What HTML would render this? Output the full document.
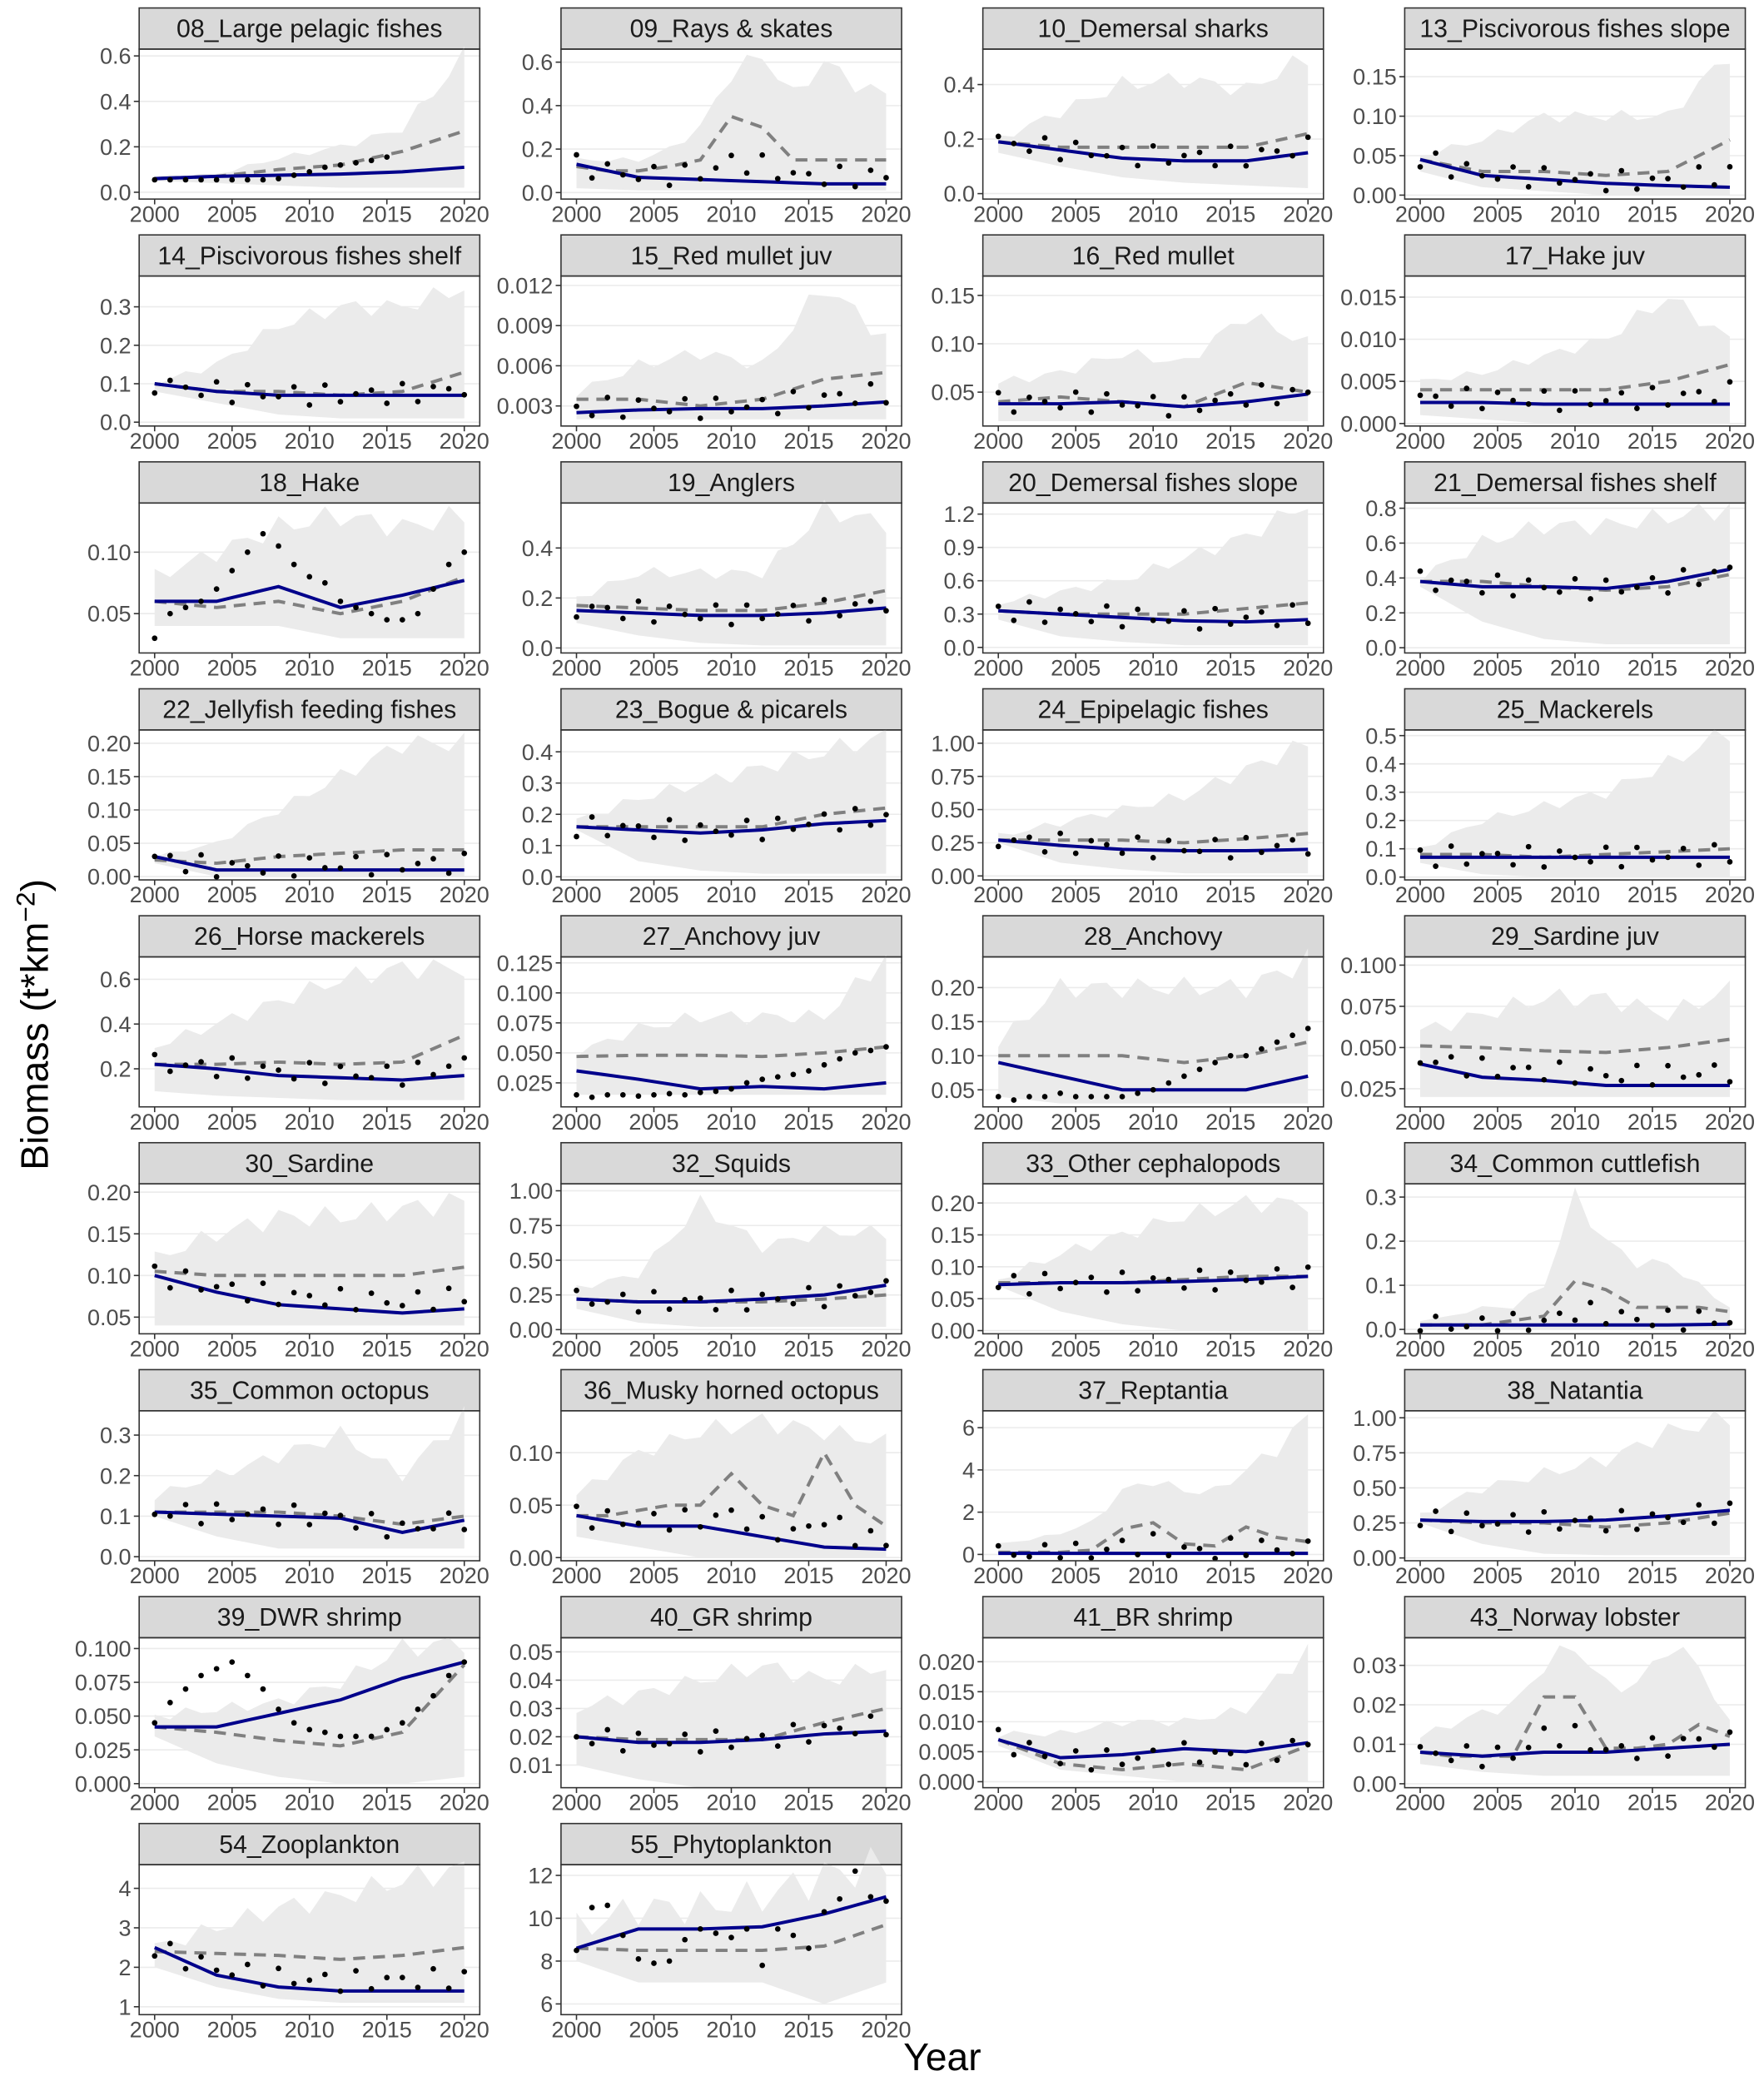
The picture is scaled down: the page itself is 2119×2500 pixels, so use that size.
<!DOCTYPE html>
<html><head><meta charset="utf-8"><style>
html,body{margin:0;padding:0;background:#fff;}
svg{display:block;}
</style></head><body>
<svg id="s" width="2119" height="2500" viewBox="0 0 1331 1568" preserveAspectRatio="none" xmlns="http://www.w3.org/2000/svg" font-family="Liberation Sans, Arial, sans-serif"></svg>
<script>
var P=[
["08_Large pelagic fishes",[0,.2,.4,.6],["0.0","0.2","0.4","0.6"],[-0.03,0.63],[.07,.08,.15,.2,.28,.6],[.05,.04,.03,.02,.02,.02],[.06,.07,.1,.12,.18,.27],[.06,.07,.075,.08,.09,.11],[.055,.055,.055,.055,.055,.055,.055,.055,.06,.075,.09,.11,.12,.13,.14,.155]],
["09_Rays & skates",[0,.2,.4,.6],["0.0","0.2","0.4","0.6"],[-0.03,0.66],[.15,.15,.15,.2,.3,.55,.63,.45,.6,.5,.45],[.02,.01,.01,.01,.01,.01],[.12,.1,.1,.12,.15,.35,.3,.15,.15,.15,.15],[.13,.07,.06,.05,.04,.04],null],
["10_Demersal sharks",[0,.2,.4],["0.0","0.2","0.4"],[-0.02,0.53],[.2,.3,.4,.42,.38,.5],[.15,.1,.06,.04,.03,.02],[.19,.17,.17,.17,.17,.22],[.19,.16,.13,.12,.12,.15],null],
["13_Piscivorous fishes slope",[0,.05,.1,.15],["0.00","0.05","0.10","0.15"],[-0.005,0.185],[.05,.07,.1,.1,.1,.18],[.03,.01,.005,0,0,0],[.045,.03,.03,.025,.03,.07],[.045,.025,.02,.015,.012,.01],null],
["14_Piscivorous fishes shelf",[0,.1,.2,.3],["0.0","0.1","0.2","0.3"],[-0.01,0.38],[.1,.15,.25,.3,.3,.35],[.08,.05,.02,.01,.01,.01],[.1,.08,.08,.07,.08,.13],[.1,.08,.07,.07,.07,.07],null],
["15_Red mullet juv",[.003,.006,.009,.012],["0.003","0.006","0.009","0.012"],[0.0015,0.0127],[.004,.006,.007,.006,.012,.008],[.002,.002,.002,.002,.002,.002],[.0035,.0035,.003,.0035,.005,.0055],[.0025,.0027,.0028,.0028,.003,.0033],null],
["16_Red mullet",[.05,.1,.15],["0.05","0.10","0.15"],[0.015,0.17],[.06,.07,.09,.08,.13,.1],[.02,.02,.02,.02,.02,.02],[.04,.045,.04,.035,.06,.05],[.038,.038,.04,.035,.04,.048],null],
["17_Hake juv",[0,.005,.01,.015],["0.000","0.005","0.010","0.015"],[-0.0003,0.0175],[.005,.006,.008,.01,.015,.01],[.001,.0005,0,0,0,0],[.004,.004,.004,.004,.005,.007],[.0025,.0025,.0023,.0023,.0023,.0023],null],
["18_Hake",[.05,.1],["0.05","0.10"],[0.018,0.14],[.08,.1,.12,.13,.12,.13],[.04,.04,.04,.03,.03,.03],[.06,.055,.06,.05,.06,.08],[.06,.06,.072,.055,.065,.077],[.03,.05,.055,.06,.07,.085,.1,.115,.105,.09,.08,.075,.06,.055,.05,.045,.045,.05,.07,.09,.1]],
["19_Anglers",[0,.2,.4],["0.0","0.2","0.4"],[-0.02,0.58],[.2,.3,.3,.3,.55,.5],[.1,.05,.02,.01,.01,.01],[.17,.16,.15,.15,.18,.23],[.15,.14,.13,.13,.14,.16],null],
["20_Demersal fishes slope",[0,.3,.6,.9,1.2],["0.0","0.3","0.6","0.9","1.2"],[-0.05,1.3],[.4,.5,.6,.8,1,1.3],[.25,.1,.05,.02,.02,.02],[.33,.3,.3,.3,.35,.4],[.33,.3,.27,.24,.23,.25],null],
["21_Demersal fishes shelf",[0,.2,.4,.6,.8],["0.0","0.2","0.4","0.6","0.8"],[-0.03,0.83],[.4,.6,.7,.7,.75,.8],[.35,.15,.05,.02,.02,.02],[.38,.38,.35,.33,.35,.42],[.38,.35,.35,.34,.38,.45],null],
["22_Jellyfish feeding fishes",[0,.05,.1,.15,.2],["0.00","0.05","0.10","0.15","0.20"],[-0.005,0.22],[.03,.05,.1,.15,.2,.2],[.02,0,0,0,0,0],[.025,.02,.03,.035,.04,.04],[.03,.01,.01,.01,.01,.01],null],
["23_Bogue & picarels",[0,.1,.2,.3,.4],["0.0","0.1","0.2","0.3","0.4"],[-0.01,0.47],[.18,.25,.3,.35,.4,.45],[.15,.05,.02,.01,.01,.01],[.16,.16,.16,.16,.2,.22],[.16,.15,.14,.15,.17,.18],null],
["24_Epipelagic fishes",[0,.25,.5,.75,1],["0.00","0.25","0.50","0.75","1.00"],[-0.03,1.1],[.3,.4,.5,.6,.8,1],[.25,.1,.05,.02,.02,.02],[.27,.27,.27,.25,.28,.32],[.27,.23,.2,.19,.19,.2],null],
["25_Mackerels",[0,.1,.2,.3,.4,.5],["0.0","0.1","0.2","0.3","0.4","0.5"],[-0.01,0.52],[.1,.2,.25,.3,.4,.52],[.05,.01,0,0,0,0],[.08,.08,.07,.08,.09,.1],[.07,.07,.07,.07,.07,.07],null],
["26_Horse mackerels",[.2,.4,.6],["0.2","0.4","0.6"],[0.03,0.7],[.3,.4,.5,.6,.65,.65],[.1,.08,.07,.06,.06,.06],[.22,.22,.23,.22,.23,.35],[.22,.2,.17,.16,.15,.17],null],
["27_Anchovy juv",[.025,.05,.075,.1,.125],["0.025","0.050","0.075","0.100","0.125"],[0.005,0.13],[.05,.07,.08,.08,.08,.13],[.015,.015,.015,.015,.015,.015],[.047,.048,.048,.047,.05,.055],[.035,.028,.02,.022,.02,.025],[.015,.013,.015,.015,.014,.015,.016,.015,.017,.018,.02,.025,.028,.03,.032,.035,.04,.045,.05,.052,.055]],
["28_Anchovy",[.05,.1,.15,.2],["0.05","0.10","0.15","0.20"],[0.025,0.245],[.12,.2,.2,.2,.2,.24],[.04,.03,.03,.03,.03,.03],[.1,.1,.1,.09,.1,.12],[.09,.07,.05,.05,.05,.07],[.04,.035,.04,.04,.045,.04,.04,.04,.04,.045,.05,.06,.07,.08,.09,.1,.1,.11,.12,.13,.14]],
["29_Sardine juv",[.025,.05,.075,.1],["0.025","0.050","0.075","0.100"],[0.014,0.105],[.06,.07,.08,.08,.07,.085],[.02,.02,.02,.02,.02,.02],[.051,.05,.048,.047,.05,.055],[.04,.032,.03,.027,.027,.027],null],
["30_Sardine",[.05,.1,.15,.2],["0.05","0.10","0.15","0.20"],[0.03,0.21],[.12,.15,.17,.17,.18,.19],[.04,.04,.04,.04,.04,.04],[.105,.1,.1,.1,.1,.11],[.1,.08,.065,.06,.055,.06],null],
["32_Squids",[0,.25,.5,.75,1],["0.00","0.25","0.50","0.75","1.00"],[-0.03,1.05],[.3,.4,.9,.6,.7,.7],[.15,.05,.02,.02,.02,.02],[.22,.2,.2,.2,.22,.25],[.22,.2,.2,.22,.25,.32],null],
["33_Other cephalopods",[0,.05,.1,.15,.2],["0.00","0.05","0.10","0.15","0.20"],[-0.005,0.23],[.08,.12,.15,.18,.2,.2],[.07,.03,.01,0,0,0],[.075,.075,.075,.08,.085,.085],[.072,.075,.075,.077,.08,.085],null],
["34_Common cuttlefish",[0,.1,.2,.3],["0.0","0.1","0.2","0.3"],[-0.01,0.33],[.02,.03,.05,.05,.1,.3,.2,.15,.15,.1,.05],[0,0,0,0,0,0],[.01,.01,.01,.02,.03,.11,.09,.05,.05,.05,.04],[.01,.01,.01,.01,.01,.012],null],
["35_Common octopus",[0,.1,.2,.3],["0.0","0.1","0.2","0.3"],[-0.01,0.36],[.15,.2,.25,.3,.2,.35],[.1,.05,.02,.02,.02,.02],[.11,.11,.11,.1,.08,.1],[.11,.105,.1,.095,.06,.09],null],
["36_Musky horned octopus",[0,.05,.1],["0.00","0.05","0.10"],[-0.003,0.14],[.06,.1,.12,.13,.12,.11],[.02,.01,0,0,0,0],[.04,.04,.045,.05,.05,.08,.05,.04,.1,.05,.03],[.04,.03,.03,.02,.01,.008],null],
["37_Reptantia",[0,2,4,6],["0","2","4","6"],[-0.3,6.8],[.5,.7,1,1.5,3,3.5,3,3,4,5,6.5],[0,0,0,0,0,0],[.1,.1,.1,.2,1.2,1.5,.5,.4,1.3,.8,.6],[.05,.05,.05,.05,.05,.05],null],
["38_Natantia",[0,.25,.5,.75,1],["0.00","0.25","0.50","0.75","1.00"],[-0.02,1.05],[.3,.5,.6,.7,.9,1],[.25,.1,.03,.02,.02,.02],[.27,.25,.25,.22,.25,.32],[.27,.26,.26,.27,.3,.34],null],
["39_DWR shrimp",[0,.025,.05,.075,.1],["0.000","0.025","0.050","0.075","0.100"],[-0.003,0.108],[.05,.055,.06,.075,.1,.105],[.035,.015,.005,0,0,.005],[.042,.038,.032,.028,.038,.088],[.042,.042,.052,.062,.078,.09],[.045,.06,.07,.08,.085,.09,.08,.07,.055,.045,.04,.038,.035,.035,.035,.04,.045,.055,.065,.08,.09]],
["40_GR shrimp",[.01,.02,.03,.04,.05],["0.01","0.02","0.03","0.04","0.05"],[0.002,0.055],[.03,.035,.04,.045,.04,.045],[.01,.005,.002,.002,.002,.002],[.02,.019,.019,.019,.025,.03],[.02,.018,.018,.019,.021,.022],null],
["41_BR shrimp",[0,.005,.01,.015,.02],["0.000","0.005","0.010","0.015","0.020"],[-0.001,0.024],[.008,.008,.01,.01,.012,.022],[.006,.002,.001,0,0,0],[.007,.003,.002,.003,.002,.006],[.007,.004,.0045,.0055,.005,.0065],null],
["43_Norway lobster",[0,.01,.02,.03],["0.00","0.01","0.02","0.03"],[-0.001,0.037],[.012,.015,.018,.02,.03,.035,.025,.025,.035,.03,.015],[.005,.003,.002,.002,.002,.002],[.008,.007,.007,.007,.022,.022,.009,.009,.01,.015,.012],[.008,.007,.008,.008,.009,.01],null],
["54_Zooplankton",[1,2,3,4],["1","2","3","4"],[0.8,4.6],[2.5,3,3.5,3.8,4.2,4.5],[2,1.5,1.2,1.1,1.1,1.1],[2.4,2.35,2.3,2.2,2.3,2.5],[2.5,1.8,1.5,1.4,1.4,1.4],null],
["55_Phytoplankton",[6,8,10,12],["6","8","10","12"],[5.5,12.5],[9.5,10.5,10.5,11,12,12.5],[8,7,7,7,6,7],[8.6,8.5,8.5,8.5,8.7,9.7],[8.6,9.5,9.5,9.6,10.2,11],[8.5,10.5,10.6,9.2,8.1,7.9,8,9,9.5,9.3,9.1,9.5,7.8,9.5,9.2,8.6,10.3,10.9,12.2,11,10.8]]
];
function interp(k,y){var n=k.length-1,t=y/20*n,i=Math.min(Math.floor(t),n-1),f=t-i;return k[i]*(1-f)+k[i+1]*f;}
var s='';
function f(v){return v.toFixed(2);}
P.forEach(function(p,idx){
 var c=idx%4,r=Math.floor(idx/4);
 var x0=105+318.3*c,w=257,st=6+171*r,pt=st+31,pb=st+144;
 var lo=p[3][0],hi=p[3][1];
 function X(y){return x0+(y+1)/22*w;}
 function Y(v){return pb-(v-lo)/(hi-lo)*(pb-pt);}
 s+='<rect x="'+f(x0)+'" y="'+st+'" width="'+w+'" height="31" fill="#d9d9d9" stroke="#333" stroke-width="1"/>';
 s+='<text x="'+f(x0+w/2)+'" y="'+(st+22)+'" font-size="19" text-anchor="middle" fill="#1a1a1a">'+p[0].replace('&','&amp;')+'</text>';
 for(var i=0;i<p[1].length;i++){var ty=Y(p[1][i]);
  s+='<line x1="'+f(x0)+'" x2="'+f(x0+w)+'" y1="'+f(ty)+'" y2="'+f(ty)+'" stroke="#ebebeb" stroke-width="1"/>';
  s+='<line x1="'+f(x0-4)+'" x2="'+f(x0)+'" y1="'+f(ty)+'" y2="'+f(ty)+'" stroke="#333" stroke-width="1"/>';
  s+='<text x="'+f(x0-6)+'" y="'+f(ty+6)+'" font-size="17" text-anchor="end" fill="#4d4d4d">'+p[2][i]+'</text>';}
 var up=[],dn=[],dl=[],sl=[];
 for(var y=0;y<=20;y++){
  var jit=1+0.08*Math.sin(y*2.3+idx);
  up.push(f(X(y))+','+f(Y(interp(p[4],y)*jit)));
  dn.push(f(X(y))+','+f(Y(interp(p[5],y))));
  dl.push(f(X(y))+','+f(Y(interp(p[6],y))));
  sl.push(f(X(y))+','+f(Y(interp(p[7],y))));}
 s+='<polygon points="'+up.join(' ')+' '+dn.reverse().join(' ')+'" fill="#ebebeb"/>';
 s+='<polyline points="'+dl.join(' ')+'" fill="none" stroke="#808080" stroke-width="2.5" stroke-dasharray="9,6"/>';
 s+='<polyline points="'+sl.join(' ')+'" fill="none" stroke="#00008b" stroke-width="2.5"/>';
 var d=p[8];
 var n=d?d.length:21;
 for(var y=0;y<n;y++){
  var v=d?d[y]:(interp(p[7],y)+(interp(p[6],y)-interp(p[7],y))*0.3+(hi-lo)*0.07*Math.sin(y*3.7+idx*1.3));
  if(v<lo)v=lo+(hi-lo)*0.02;
  s+='<circle cx="'+f(X(y))+'" cy="'+f(Y(v))+'" r="2.1" fill="#000"/>';}
 s+='<rect x="'+f(x0)+'" y="'+pt+'" width="'+w+'" height="'+(pb-pt)+'" fill="none" stroke="#333" stroke-width="1"/>';
 for(var yr=0;yr<=20;yr+=5){var tx=X(yr);
  s+='<line x1="'+f(tx)+'" x2="'+f(tx)+'" y1="'+pb+'" y2="'+(pb+4)+'" stroke="#333"/>';
  s+='<text x="'+f(tx)+'" y="'+(pb+17)+'" font-size="17" text-anchor="middle" fill="#4d4d4d">'+(2000+yr)+'</text>';}
});
s+='<text transform="translate(36,772) rotate(-90)" font-size="29" text-anchor="middle" fill="#000">Biomass (t*km<tspan dy="-10" font-size="20">−2</tspan><tspan dy="10">)</tspan></text>';
s+='<text x="711" y="1560" font-size="29" text-anchor="middle" fill="#000">Year</text>';
document.getElementById('s').innerHTML=s;
</script>
</body></html>
